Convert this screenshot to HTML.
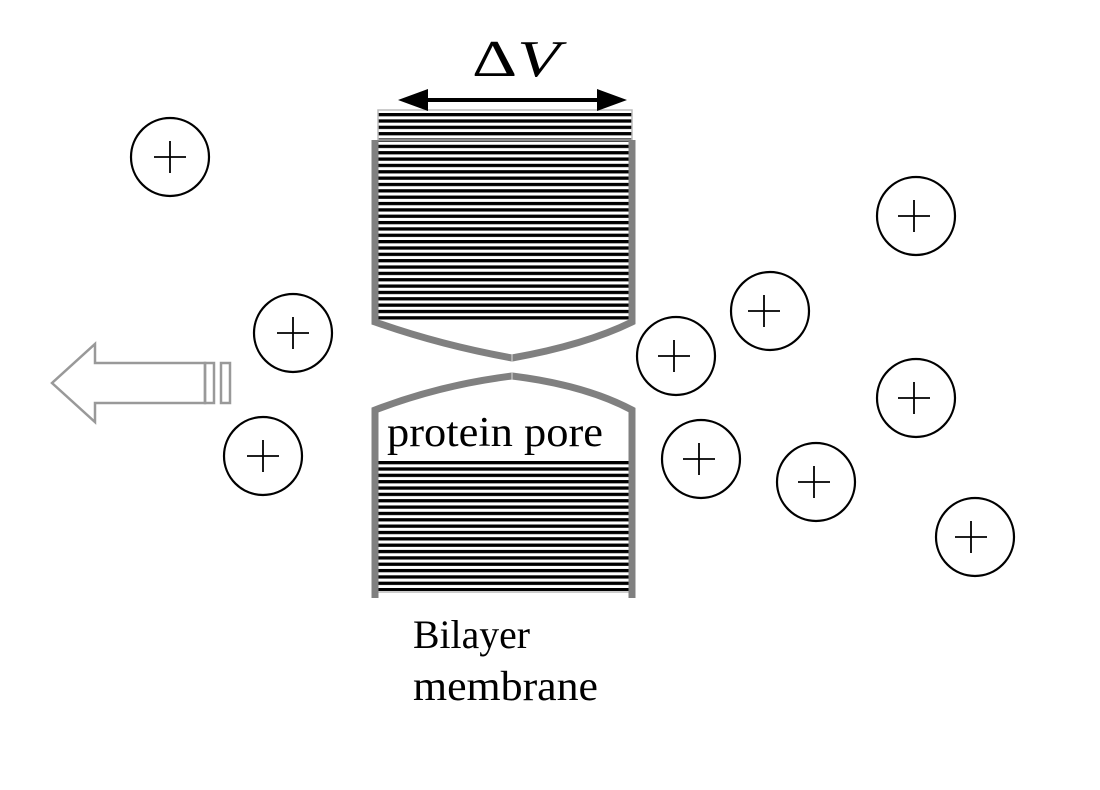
<!DOCTYPE html>
<html><head><meta charset="utf-8"><style>html,body{margin:0;padding:0;background:#fff}svg{display:block}</style></head>
<body>
<svg width="1100" height="790" viewBox="0 0 1100 790" xmlns="http://www.w3.org/2000/svg">
<defs>
<pattern id="st" x="0" y="113" width="10" height="6.35" patternUnits="userSpaceOnUse">
<rect x="0" y="0" width="10" height="3.3" fill="#000"/>
</pattern>
<pattern id="st2" x="0" y="461" width="10" height="6.35" patternUnits="userSpaceOnUse">
<rect x="0" y="0" width="10" height="3.3" fill="#000"/>
</pattern>
</defs>
<rect x="378" y="110" width="254" height="210" fill="url(#st)"/>
<rect x="378" y="110" width="254" height="30" fill="none" stroke="#bbb" stroke-width="1.5"/>
<path d="M375 140 V322 Q440 345 512 358 Q585 345 632 322 V140" fill="none" stroke="#808080" stroke-width="7"/>
<line x1="512" y1="354" x2="512" y2="362" stroke="#ddd" stroke-width="1"/>
<rect x="378" y="460" width="254" height="132" fill="url(#st2)"/>
<line x1="378" y1="592" x2="632" y2="592" stroke="#ccc" stroke-width="2"/>
<path d="M375 598 V410 Q440 385 512 376 Q585 385 632 410 V598" fill="none" stroke="#808080" stroke-width="7"/>
<line x1="512" y1="372" x2="512" y2="380" stroke="#ddd" stroke-width="1"/>
<text x="387" y="446" font-family="Liberation Serif, serif" font-size="42" textLength="216" lengthAdjust="spacingAndGlyphs" fill="#000">protein pore</text>
<text x="472" y="76" font-family="Liberation Serif, serif" font-size="52" textLength="88" lengthAdjust="spacingAndGlyphs" fill="#000">Δ<tspan font-style="italic">V</tspan></text>
<line x1="420" y1="100" x2="605" y2="100" stroke="#000" stroke-width="4"/>
<polygon points="398,100 428,89 428,111" fill="#000"/>
<polygon points="627,100 597,89 597,111" fill="#000"/>
<path d="M52 383 L95 344 V363 H205 V403 H95 V422 Z" fill="#fff" stroke="#999" stroke-width="2.5"/>
<rect x="205" y="363" width="9" height="40" fill="none" stroke="#999" stroke-width="2.5"/>
<rect x="221" y="363" width="9" height="40" fill="none" stroke="#999" stroke-width="2.5"/>
<g fill="none" stroke="#000" stroke-width="2.2">
<circle cx="170" cy="157" r="39"/><circle cx="293" cy="333" r="39"/><circle cx="263" cy="456" r="39"/>
<circle cx="916" cy="216" r="39"/><circle cx="770" cy="311" r="39"/><circle cx="676" cy="356" r="39"/>
<circle cx="916" cy="398" r="39"/><circle cx="701" cy="459" r="39"/><circle cx="816" cy="482" r="39"/>
<circle cx="975" cy="537" r="39"/>
</g>
<g stroke="#000" stroke-width="1.8">
<path d="M154 157h32M170 141v32"/><path d="M277 333h32M293 317v32"/><path d="M247 456h32M263 440v32"/>
<path d="M898 216h32M914 200v32"/><path d="M748 311h32M764 295v32"/><path d="M658 356h32M674 340v32"/>
<path d="M898 398h32M914 382v32"/><path d="M683 459h32M699 443v32"/><path d="M798 482h32M814 466v32"/>
<path d="M955 537h32M971 521v32"/>
</g>
<text x="413" y="648" font-family="Liberation Serif, serif" font-size="40" textLength="117" lengthAdjust="spacingAndGlyphs" fill="#000">Bilayer</text>
<text x="413" y="700" font-family="Liberation Serif, serif" font-size="42" textLength="185" lengthAdjust="spacingAndGlyphs" fill="#000">membrane</text>
</svg>
</body></html>
